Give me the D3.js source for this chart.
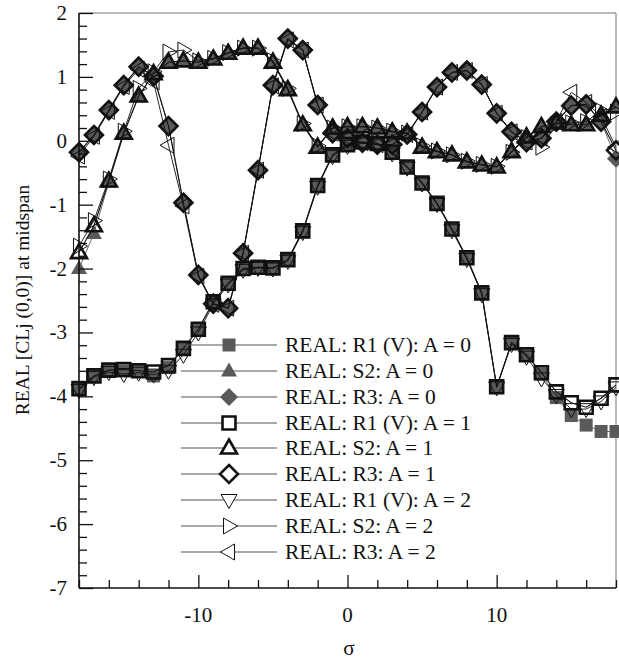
<!DOCTYPE html>
<html><head><meta charset="utf-8">
<script src="https://cdn.jsdelivr.net/npm/d3@7"></script>
<style>body{margin:0;background:#fff}svg{display:block}text{font-family:"Liberation Serif","Times New Roman",serif}</style>
</head><body>
<svg id="c" width="619" height="659"></svg>
<script>
const sigma = [-18,-17,-16,-15,-14,-13,-12,-11,-10,-9,-8,-7,-6,-5,-4,-3,-2,-1,0,1,2,3,4,5,6,7,8,9,10,11,12,13,14,15,16,17,18];

const R1_A0 = [-3.88,-3.68,-3.6,-3.6,-3.61,-3.68,-3.55,-3.25,-2.95,-2.52,-2.23,-2.0,-1.98,-1.99,-1.86,-1.41,-0.7,-0.22,-0.06,-0.02,-0.04,-0.18,-0.41,-0.66,-0.98,-1.38,-1.83,-2.38,-3.85,-3.16,-3.35,-3.65,-4.02,-4.3,-4.45,-4.55,-4.55];
const S2_A0 = [-2.0,-1.45,-0.65,0.1,0.7,1.05,1.23,1.25,1.23,1.28,1.37,1.45,1.45,1.23,0.8,0.25,-0.1,0.2,0.22,0.22,0.2,0.14,0.12,-0.1,-0.17,-0.22,-0.33,-0.38,-0.41,-0.17,0.06,0.22,0.28,0.25,0.25,0.4,0.53];
const R3_A0 = [-0.18,0.09,0.48,0.87,1.16,1.01,0.23,-0.97,-2.1,-2.55,-2.62,-1.76,-0.46,0.87,1.6,1.42,0.56,0.12,0.04,-0.03,-0.06,-0.06,0.1,0.45,0.84,1.07,1.1,0.88,0.43,0.14,-0.02,0.04,0.3,0.55,0.57,0.3,-0.28];

const R1_A1 = [-3.88,-3.68,-3.59,-3.58,-3.6,-3.62,-3.52,-3.25,-2.95,-2.52,-2.23,-2.0,-1.98,-1.99,-1.86,-1.41,-0.7,-0.22,-0.06,-0.02,-0.04,-0.18,-0.41,-0.66,-0.98,-1.38,-1.83,-2.38,-3.85,-3.16,-3.35,-3.63,-3.93,-4.1,-4.17,-4.03,-3.82];
const S2_A1 = [-1.75,-1.33,-0.63,0.12,0.7,1.05,1.23,1.25,1.23,1.28,1.37,1.45,1.45,1.23,0.8,0.25,-0.1,0.2,0.22,0.22,0.2,0.14,0.12,-0.1,-0.17,-0.22,-0.33,-0.38,-0.41,-0.17,0.06,0.22,0.28,0.25,0.25,0.4,0.53];
const R3_A1 = [-0.18,0.09,0.48,0.87,1.16,1.01,0.23,-0.97,-2.1,-2.55,-2.62,-1.76,-0.46,0.87,1.6,1.42,0.56,0.12,0.04,-0.03,-0.06,-0.06,0.1,0.45,0.84,1.07,1.1,0.88,0.43,0.14,-0.02,0.04,0.3,0.55,0.57,0.3,-0.15];

const R1_A2 = [-3.9,-3.7,-3.62,-3.65,-3.63,-3.66,-3.6,-3.35,-3.0,-2.56,-2.25,-2.02,-1.99,-2.0,-1.88,-1.43,-0.72,-0.24,-0.08,-0.04,-0.05,-0.2,-0.42,-0.67,-0.99,-1.4,-1.85,-2.4,-3.86,-3.18,-3.38,-3.72,-3.98,-4.2,-4.2,-4.08,-3.86];
const S2_A2 = [-1.65,-1.25,-0.6,0.15,0.82,1.08,1.39,1.42,1.25,1.29,1.38,1.45,1.45,1.25,0.82,0.27,-0.08,0.2,0.22,0.22,0.2,0.15,0.12,-0.08,-0.16,-0.22,-0.32,-0.37,-0.4,-0.18,0.05,-0.1,0.26,0.28,0.3,0.47,0.45];
const R3_A2 = [-0.24,0.07,0.46,0.85,1.12,0.92,-0.07,-1.02,-2.12,-2.56,-2.62,-1.76,-0.46,0.86,1.58,1.42,0.56,0.12,0.04,-0.03,-0.06,-0.06,0.1,0.45,0.84,1.07,1.1,0.88,0.43,0.14,-0.02,0.04,0.3,0.76,0.6,0.38,-0.1];

const legendLabels = ["REAL: R1 (V): A = 0","REAL: S2: A = 0","REAL: R3: A = 0","REAL: R1 (V): A = 1","REAL: S2: A = 1","REAL: R3: A = 1","REAL: R1 (V): A = 2","REAL: S2: A = 2","REAL: R3: A = 2"];
const xTickLabels = [-10, 0, 10];
const yTickLabels = [2, 1, 0, -1, -2, -3, -4, -5, -6, -7];

const series = [
  {name:legendLabels[0], v:R1_A0, shape:"square", style:0},
  {name:legendLabels[1], v:S2_A0, shape:"triUp", style:0},
  {name:legendLabels[2], v:R3_A0, shape:"diamond", style:0},
  {name:legendLabels[3], v:R1_A1, shape:"square", style:1},
  {name:legendLabels[4], v:S2_A1, shape:"triUp", style:1},
  {name:legendLabels[5], v:R3_A1, shape:"diamond", style:1},
  {name:legendLabels[6], v:R1_A2, shape:"triDown", style:2},
  {name:legendLabels[7], v:S2_A2, shape:"triRight", style:2},
  {name:legendLabels[8], v:R3_A2, shape:"triLeft", style:2}
];

const svg = d3.select("#c");
const L = 79, R = 616, T = 13, B = 588;
const x = d3.scaleLinear().domain([-18, 18]).range([L, R]);
const y = d3.scaleLinear().domain([-7, 2]).range([B, T]);

function shapePath(s){
  switch(s){
    case "square": return "M-6.5,-6.5H6.5V6.5H-6.5Z";
    case "diamond": return "M0,-9L9,0L0,9L-9,0Z";
    case "triUp": return "M0,-8.5L8,5.5L-8,5.5Z";
    case "triDown": return "M0,8.5L8,-5.5L-8,-5.5Z";
    case "triRight": return "M8.5,0L-5.5,-8L-5.5,8Z";
    case "triLeft": return "M-8.5,0L5.5,-8L5.5,8Z";
  }
}
const styles = [
  {line:"#6a6a6a", lw:1, fill:"#5a5a5a", stroke:"none", sw:0},
  {line:"#111", lw:1.1, fill:"none", stroke:"#111", sw:2.6},
  {line:"#111", lw:0.9, fill:"none", stroke:"#111", sw:1}
];

// frame
svg.append("line").attr("x1",L).attr("x2",R).attr("y1",T).attr("y2",T).attr("stroke","#777").attr("stroke-width",1);
svg.append("line").attr("x1",R).attr("x2",R).attr("y1",T).attr("y2",B).attr("stroke","#777").attr("stroke-width",1);

const gp = svg.append("g");
const line = d3.line().x((d,i)=>x(sigma[i])).y(d=>y(d));
series.forEach(s=>{
  const st = styles[s.style];
  const g = gp.append("g");
  g.append("path").attr("d", line(s.v)).attr("fill","none").attr("stroke",st.line).attr("stroke-width",st.lw);
  g.selectAll("path.m").data(s.v).enter().append("path").attr("class","m")
    .attr("d", shapePath(s.shape))
    .attr("transform",(d,i)=>`translate(${x(sigma[i])},${y(d)})`)
    .attr("fill",st.fill).attr("stroke",st.stroke).attr("stroke-width",st.sw).attr("stroke-linejoin","miter");
});

// axes
const xAxis = d3.axisBottom(x).tickValues(d3.range(-18,19,2)).tickSize(-8).tickFormat("");
const gx = svg.append("g").attr("transform",`translate(0,${B})`).call(xAxis);
gx.selectAll(".tick line").attr("stroke","#111").attr("stroke-width",1.3).attr("y2", d=> (d%10===0)?-13:-8);
gx.select(".domain").attr("stroke","#111").attr("stroke-width",1.6).attr("d",`M${L},0H${R}`);
svg.selectAll("text.xt").data(xTickLabels).enter().append("text").attr("class","xt")
  .attr("x",d=>x(d)).attr("y",622).attr("text-anchor","middle").attr("font-size",21).attr("fill","#111").text(d=>d);

const yMinor = d3.range(-70, 21, 2).map(d=>d/10);
const yAxis = d3.axisLeft(y).tickValues(yMinor).tickSize(-8).tickFormat("");
const gy = svg.append("g").attr("transform",`translate(${L},0)`).call(yAxis);
gy.selectAll(".tick line").attr("stroke","#111").attr("stroke-width",1.3).attr("x2", d=> (Math.abs(d-Math.round(d))<1e-6)?14:8);
gy.select(".domain").attr("stroke","#111").attr("stroke-width",1.6).attr("d",`M0,${T}V${B}`);
svg.selectAll("text.yt").data(yTickLabels).enter().append("text").attr("class","yt")
  .attr("x",67).attr("y",d=>y(d)+7).attr("text-anchor","end").attr("font-size",21).attr("fill","#111").text(d=>d);

// axis titles
svg.append("text").attr("x",349).attr("y",655).attr("text-anchor","middle").attr("font-size",21).attr("fill","#111").text("σ");
svg.append("text").attr("transform","translate(29,300) rotate(-90)").attr("text-anchor","middle").attr("font-size",19.5).attr("fill","#111").text("REAL [CLj (0,0)] at midspan");

// legend
const legY = [345,371,397,423,448,474,500,526,552];
const lg = svg.append("g");
series.forEach((s,i)=>{
  const st = styles[s.style];
  const yy = legY[i];
  lg.append("line").attr("x1",181).attr("x2",277).attr("y1",yy).attr("y2",yy).attr("stroke","#555").attr("stroke-width",1.1);
  lg.append("path").attr("d",shapePath(s.shape)).attr("transform",`translate(229,${yy})`)
    .attr("fill", st.fill==="none"?"#fff":st.fill).attr("stroke",st.stroke).attr("stroke-width",st.sw);
  lg.append("text").attr("x",285).attr("y",yy+7).attr("font-size",21.5).attr("fill","#111").text(s.name);
});
</script>
</body></html>
